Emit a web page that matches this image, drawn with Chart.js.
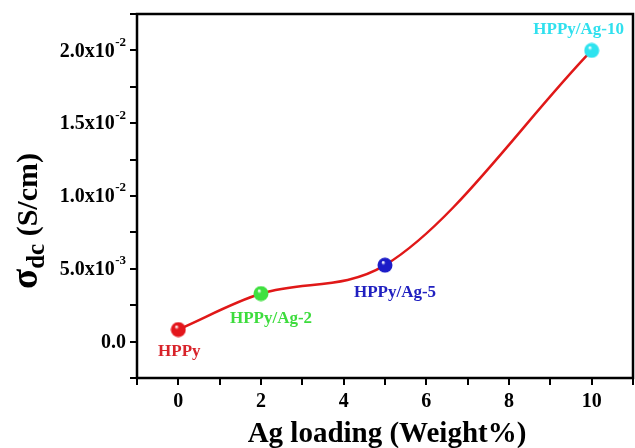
<!DOCTYPE html>
<html><head><meta charset="utf-8">
<script src="https://cdn.jsdelivr.net/npm/chart.js@4"></script>
<style>html,body{margin:0;padding:0;background:#fff}#wrap{width:635px;height:448px;position:relative}</style>
</head><body><div id="wrap"><canvas id="c" width="635" height="448"></canvas></div>
<script>
// ---- data ----
const agLoading = [0, 2, 5, 10];
const sigmaDc = [0.00083, 0.0033, 0.00525, 0.0200];
const sampleNames = ['HPPy', 'HPPy/Ag-2', 'HPPy/Ag-5', 'HPPy/Ag-10'];
const xTickValues = [0, 2, 4, 6, 8, 10];
const yTickValues = [0, 0.005, 0.01, 0.015, 0.02];
const yTickMantissa = ['0.0', '5.0x10', '1.0x10', '1.5x10', '2.0x10'];
const yTickExponent = ['', '-3', '-2', '-2', '-2'];

// ---- styles ----
const sampleColors = ['#e3161c', '#3fe03f', '#1c1cc8', '#2ee3ef'];
const labelColors = ['#d8232a', '#3ddc3d', '#2020c0', '#30e0ee'];
const labelOffsets = [[1, 22], [10, 25], [10, 27], [-13, -21]];
const FONT = "'Liberation Serif', 'Times New Roman', serif";

function sphere(color) {
  const r = 7.5, s = 16;
  const cv = document.createElement('canvas');
  cv.width = s; cv.height = s;
  const g = cv.getContext('2d');
  const grd = g.createRadialGradient(s/2 - 2, s/2 - 3, 0.5, s/2, s/2, r);
  grd.addColorStop(0, '#ffffff');
  grd.addColorStop(0.25, color);
  grd.addColorStop(1, color);
  g.fillStyle = grd;
  g.beginPath(); g.arc(s/2, s/2, r, 0, Math.PI * 2); g.fill();
  return cv;
}
const sphereImgs = sampleColors.map(sphere);

const points = agLoading.map((x, i) => ({ x, y: sigmaDc[i] }));

const decor = {
  id: 'decor',
  afterDraw(chart) {
    const { ctx, chartArea: a, scales } = chart;
    const xs = scales.x, ys = scales.y;
    ctx.save();
    // frame
    ctx.strokeStyle = '#000'; ctx.lineWidth = 2.5;
    ctx.strokeRect(a.left, a.top, a.right - a.left, a.bottom - a.top);
    // y tick labels with superscript exponents
    ctx.fillStyle = '#000';
    ctx.textBaseline = 'middle';
    yTickValues.forEach((v, i) => {
      const py = ys.getPixelForValue(v);
      let right = a.left - 11;
      ctx.font = 'bold 13px ' + FONT;
      ctx.textAlign = 'right';
      if (yTickExponent[i]) {
        ctx.fillText(yTickExponent[i], right, py - 8);
        right -= ctx.measureText(yTickExponent[i]).width + 0.5;
      }
      ctx.font = 'bold 20px ' + FONT;
      ctx.fillText(yTickMantissa[i], right, py + 1);
    });
    // sample labels
    ctx.font = 'bold 17px ' + FONT;
    ctx.textAlign = 'center';
    sampleNames.forEach((n, i) => {
      const px = xs.getPixelForValue(agLoading[i]);
      const py = ys.getPixelForValue(sigmaDc[i]);
      ctx.fillStyle = labelColors[i];
      ctx.fillText(n, px + labelOffsets[i][0], py + labelOffsets[i][1]);
    });
    // x title
    ctx.fillStyle = '#000';
    ctx.font = 'bold 29px ' + FONT;
    ctx.textAlign = 'center';
    ctx.textBaseline = 'alphabetic';
    ctx.fillText('Ag loading (Weight%)', 387, 442);
    // y title (rotated)
    ctx.translate(37, 221);
    ctx.rotate(-Math.PI / 2);
    const parts = [
      { t: 'σ', f: 'bold 37px ' + FONT, dy: 0 },
      { t: 'dc', f: 'bold 25px ' + FONT, dy: 7 },
      { t: ' (S/cm)', f: 'bold 30px ' + FONT, dy: 0 }
    ];
    let total = 0;
    parts.forEach(p => { ctx.font = p.f; p.w = ctx.measureText(p.t).width; total += p.w; });
    let cx = -total / 2;
    ctx.textAlign = 'left';
    parts.forEach(p => { ctx.font = p.f; ctx.fillText(p.t, cx, p.dy); cx += p.w; });
    ctx.restore();
  }
};

new Chart(document.getElementById('c'), {
  type: 'line',
  data: {
    datasets: [{
      data: points,
      borderColor: '#e01818',
      borderWidth: 2.5,
      cubicInterpolationMode: 'monotone',
      pointStyle: sphereImgs,
      pointRadius: 7.5,
      pointHoverRadius: 7.5,
      fill: false
    }]
  },
  options: {
    responsive: false,
    animation: false,
    events: [],
    layout: { autoPadding: false, padding: { left: 0, right: 2, top: 14, bottom: 0 } },
    plugins: { legend: { display: false }, tooltip: { enabled: false } },
    scales: {
      x: {
        type: 'linear', min: -1, max: 11,
        ticks: {
          stepSize: 1, autoSkip: false, maxRotation: 0, padding: 5,
          color: '#000',
          font: { family: FONT, weight: 'bold', size: 20 },
          callback: v => xTickValues.includes(v) ? String(v) : ''
        },
        grid: { drawOnChartArea: false, drawTicks: true, tickLength: 7, color: '#000', lineWidth: 2 },
        border: { display: true, color: '#000', width: 2 },
        afterFit: s => { s.height = 70; s.paddingLeft = 0; s.paddingRight = 0; }
      },
      y: {
        type: 'linear', min: -0.0025, max: 0.0225,
        ticks: { stepSize: 0.0025, autoSkip: false, callback: () => '' },
        grid: { drawOnChartArea: false, drawTicks: true, tickLength: 7, color: '#000', lineWidth: 2 },
        border: { display: true, color: '#000', width: 2 },
        afterFit: s => { s.width = 137; s.paddingTop = 0; s.paddingBottom = 0; }
      }
    }
  },
  plugins: [decor]
});
</script>
</body></html>
